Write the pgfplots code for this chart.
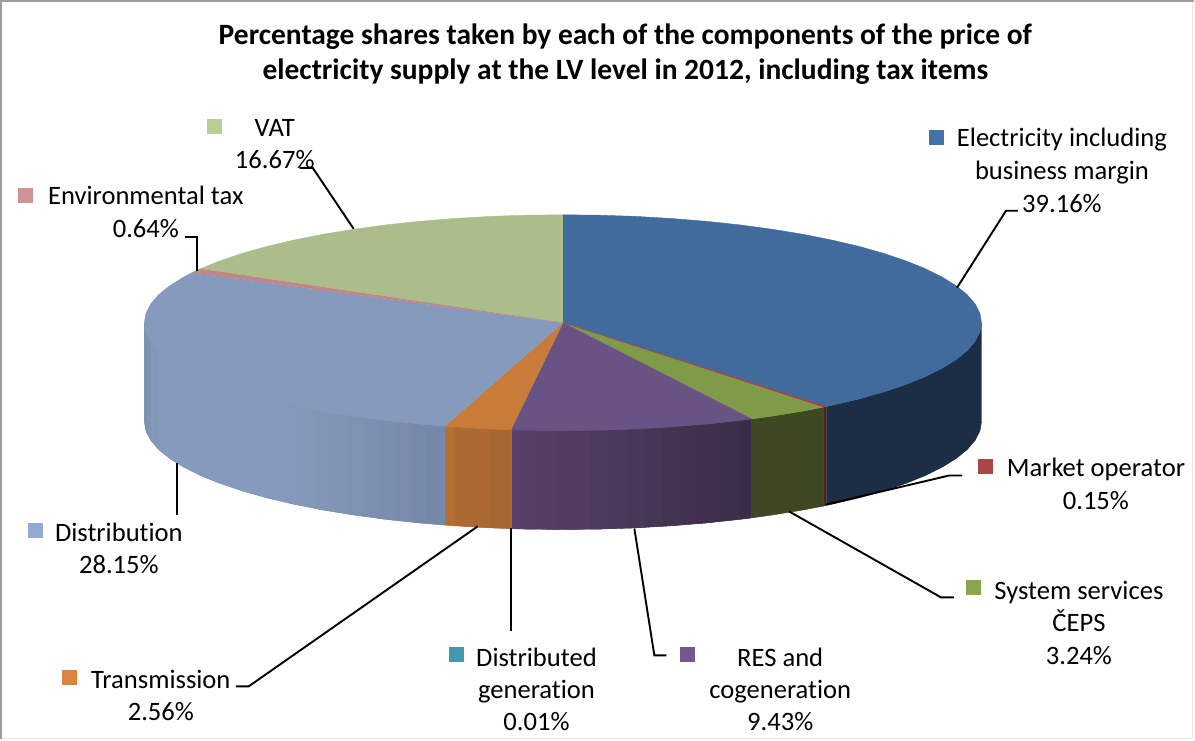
\documentclass[border=0pt]{standalone}
\usepackage{fontspec}
\setmainfont{Carlito}[Ligatures=NoCommon]
\usepackage{pgfplots}
\pgfplotsset{compat=1.18}

% top faces
\definecolor{tElec}{HTML}{416A9D}
\definecolor{tMark}{HTML}{A04240}
\definecolor{tSys}{HTML}{7F9A48}
\definecolor{tRes}{HTML}{695284}
\definecolor{tGen}{HTML}{3D8DA3}
\definecolor{tTran}{HTML}{C97B38}
\definecolor{tDist}{HTML}{869ABD}
\definecolor{tEnv}{HTML}{C18786}
\definecolor{tVat}{HTML}{ABBD8B}
% legend keys
\definecolor{kElec}{HTML}{4572A7}
\definecolor{kMark}{HTML}{AA4643}
\definecolor{kSys}{HTML}{89A54E}
\definecolor{kRes}{HTML}{71588F}
\definecolor{kGen}{HTML}{4198AF}
\definecolor{kTran}{HTML}{DB843D}
\definecolor{kDist}{HTML}{93A9CF}
\definecolor{kEnv}{HTML}{D19392}
\definecolor{kVat}{HTML}{B9CD96}
% side walls
\definecolor{sElec}{HTML}{1B2E45}
\definecolor{sMark}{HTML}{4F2120}
\definecolor{sSys}{HTML}{3E4822}
\definecolor{sRa}{HTML}{3B2D48}
\definecolor{sRb}{HTML}{3E2F4C}
\definecolor{sRc}{HTML}{423250}
\definecolor{sRd}{HTML}{463655}
\definecolor{sRe}{HTML}{4B3A5A}
\definecolor{sRf}{HTML}{4F3C60}
\definecolor{sRg}{HTML}{533E64}
\definecolor{sRh}{HTML}{563F68}
\definecolor{sTa}{HTML}{A66731}
\definecolor{sTb}{HTML}{AC6A32}
\definecolor{sTc}{HTML}{B26E33}
\definecolor{sDa}{HTML}{7688A7}
\definecolor{sDb}{HTML}{7A8BAB}
\definecolor{sDc}{HTML}{7E90B0}
\definecolor{sDd}{HTML}{8194B5}
\definecolor{sDe}{HTML}{8397B9}
\definecolor{sDf}{HTML}{7F94B5}
\definecolor{sDg}{HTML}{7A8FAF}

\newcommand{\poly}[2]{\addplot[fill=#1,draw=#1,line width=0.2pt] coordinates {#2};}
\newcommand{\strip}[2]{\addplot[fill=#1,draw=none] coordinates {#2};}
\newcommand{\key}[2]{\addplot[fill=#1,draw=none] coordinates {#2};}
\newcommand{\leader}[1]{\addplot[black,line width=0.95pt] coordinates {#1};}
\newcommand{\lab}[3]{\node[anchor=base,inner sep=0pt,font=\fontsize{13.3}{15}\selectfont] at (axis cs:#1,#2) {#3};}

\begin{document}
\begin{tikzpicture}
\begin{axis}[
    scale only axis,
    width=597.5pt,
    height=370pt,
    xmin=0, xmax=1195,
    ymin=0, ymax=740,
    y dir=reverse,
    hide axis,
    clip=false
]
% background and frame
\addplot[fill=white,draw=none] coordinates {(0,0)(1195,0)(1195,740)(0,740)};
\addplot[color=black!8,line width=0.5pt] coordinates {(1194,2)(1194,739.5)(2,739.5)};
\addplot[color=black!38,line width=1.2pt] coordinates {(1.2,740)(1.2,1.2)(1195,1.2)};

% side walls
\poly{sElec}{(982.5,323)(980.9,332.4)(976.1,341.8)(968.2,351.0)(957.2,359.9)(943.2,368.6)(926.4,377.0)(906.7,384.9)(884.5,392.4)(859.8,399.4)(832.8,405.7)(827.3,406.9)
  (827.3,505.9)(832.8,504.7)(859.8,498.4)(884.5,491.4)(906.7,483.9)(926.4,476.0)(943.2,467.6)(957.2,458.9)(968.2,450.0)(976.1,440.8)(980.9,431.4)(982.5,422)}
\poly{sMark}{(827.3,406.9)(824.2,407.6)(824.2,506.6)(827.3,505.9)}
\poly{sSys}{(824.2,407.6)(803.8,411.5)(773.0,416.5)(752.5,419.4)(752.5,518.4)(773.0,515.5)(803.8,510.5)(824.2,506.6)}
% base layers under the gradient strips
\poly{sRd}{(752.5,419.4)(740.6,420.9)(706.8,424.5)(671.9,427.3)(636.3,429.4)(600.0,430.6)(563.5,431)(527.0,430.6)(511.5,430.2)(511.5,529.2)(527.0,529.6)(563.5,530)(600.0,529.6)(636.3,528.4)(671.9,526.3)(706.8,523.5)(740.6,519.9)(752.5,518.4)}
\poly{sTb}{(511.3,430.2)(490.7,429.4)(455.1,427.3)(445.3,426.6)(445.3,525.6)(455.1,526.3)(490.7,528.4)(511.3,529.2)}
\poly{sDd}{(445.3,426.6)(420.2,424.5)(386.4,420.9)(354.0,416.5)(323.2,411.5)(294.2,405.7)(267.2,399.4)(242.5,392.4)(220.3,384.9)(200.6,377.0)(183.8,368.6)(169.8,359.9)(158.8,351.0)(150.9,341.8)(146.1,332.4)(144.5,323)
  (144.5,422)(146.1,431.4)(150.9,440.8)(158.8,450.0)(169.8,458.9)(183.8,467.6)(200.6,476.0)(220.3,483.9)(242.5,491.4)(267.2,498.4)(294.2,504.7)(323.2,510.5)(354.0,515.5)(386.4,519.9)(420.2,523.5)(445.3,525.6)}
% gradient strips
\strip{sRa}{(752.5,419.4)(740.6,420.9)(740.6,519.9)(752.5,518.4)}
\strip{sRb}{(740.6,420.9)(706.8,424.5)(706.8,523.5)(740.6,519.9)}
\strip{sRc}{(706.8,424.5)(671.9,427.3)(671.9,526.3)(706.8,523.5)}
\strip{sRd}{(671.9,427.3)(636.3,429.4)(636.3,528.4)(671.9,526.3)}
\strip{sRe}{(636.3,429.4)(600.0,430.6)(600.0,529.6)(636.3,528.4)}
\strip{sRf}{(600.0,430.6)(563.5,431)(563.5,530)(600.0,529.6)}
\strip{sRg}{(563.5,431)(527.0,430.6)(527.0,529.6)(563.5,530)}
\strip{sRh}{(527.0,430.6)(511.5,430.2)(511.5,529.2)(527.0,529.6)}
\strip{sRb!50!sRc}{(715.2,423.6)(706.8,424.5)(698.1,425.2)(698.1,524.2)(706.8,523.5)(715.2,522.6)}
\strip{sRc!50!sRd}{(680.6,426.6)(671.9,427.3)(663.0,427.8)(663.0,526.8)(671.9,526.3)(680.6,525.6)}
\strip{sRd!50!sRe}{(645.2,428.9)(636.3,429.4)(627.2,429.7)(627.2,528.7)(636.3,528.4)(645.2,527.9)}
\strip{sRe!50!sRf}{(609.1,430.3)(600.0,430.6)(590.9,430.7)(590.9,529.7)(600.0,529.6)(609.1,529.3)}
\strip{sRf!50!sRg}{(572.6,430.9)(563.5,431)(554.4,430.9)(554.4,529.9)(563.5,530)(572.6,529.9)}
\strip{sRg!50!sRh}{(536.1,430.7)(527.0,430.6)(523.1,430.5)(523.1,529.5)(527.0,529.6)(536.1,529.7)}
\poly{tGen}{(511.5,430.2)(511.3,430.2)(511.3,529.2)(511.5,529.2)}
\strip{sTa}{(511.3,430.2)(490.7,429.4)(490.7,528.4)(511.3,529.2)}
\strip{sTb}{(490.7,429.4)(455.1,427.3)(455.1,526.3)(490.7,528.4)}
\strip{sTc}{(455.1,427.3)(445.3,426.6)(445.3,525.6)(455.1,526.3)}
\strip{sDa}{(445.3,426.6)(420.2,424.5)(420.2,523.5)(445.3,525.6)}
\strip{sDb}{(420.2,424.5)(386.4,420.9)(386.4,519.9)(420.2,523.5)}
\strip{sDc}{(386.4,420.9)(354.0,416.5)(354.0,515.5)(386.4,519.9)}
\strip{sDd}{(354.0,416.5)(323.2,411.5)(323.2,510.5)(354.0,515.5)}
\strip{sDe}{(323.2,411.5)(294.2,405.7)(294.2,504.7)(323.2,510.5)}
\strip{tDist}{(294.2,405.7)(267.2,399.4)(242.5,392.4)(220.3,384.9)(200.6,377.0)(183.8,368.6)(169.8,359.9)(158.8,351.0)
  (158.8,450.0)(169.8,458.9)(183.8,467.6)(200.6,476.0)(220.3,483.9)(242.5,491.4)(267.2,498.4)(294.2,504.7)}
\strip{sDa!50!sDb}{(426.5,425.0)(420.2,424.5)(411.8,423.6)(411.8,522.6)(420.2,523.5)(426.5,524.0)}
\strip{sDb!50!sDc}{(394.9,421.8)(386.4,420.9)(378.3,419.8)(378.3,518.8)(386.4,519.9)(394.9,520.8)}
\strip{sDc!50!sDd}{(362.1,417.6)(354.0,416.5)(346.3,415.3)(346.3,514.3)(354.0,515.5)(362.1,516.6)}
\strip{sDd!50!sDe}{(330.9,412.8)(323.2,411.5)(316.0,410.1)(316.0,509.1)(323.2,510.5)(330.9,511.8)}
\strip{sDe!50!tDist}{(301.5,407.2)(294.2,405.7)(287.4,404.1)(287.4,503.1)(294.2,504.7)(301.5,506.2)}
\strip{sDe}{(158.8,351.0)(150.9,341.8)(150.9,440.8)(158.8,450.0)}
\strip{sDf}{(150.9,341.8)(146.1,332.4)(146.1,431.4)(150.9,440.8)}
\strip{sDg}{(146.1,332.4)(144.5,323)(144.5,422)(146.1,431.4)}

% top faces
\poly{tElec}{(563.5,323)(563.5,215)(600.0,215.4)(636.3,216.6)(671.9,218.7)(706.8,221.5)(740.6,225.1)(773.0,229.5)(803.8,234.5)(832.8,240.3)(859.8,246.6)(884.5,253.6)(906.7,261.1)(926.4,269.0)(943.2,277.4)(957.2,286.1)(968.2,295.0)(976.1,304.2)(980.9,313.6)(982.5,323)(980.9,332.4)(976.1,341.8)(968.2,351.0)(957.2,359.9)(943.2,368.6)(926.4,377.0)(906.7,384.9)(884.5,392.4)(859.8,399.4)(832.8,405.7)(827.3,406.9)}
\poly{tSys}{(563.5,323)(824.2,407.6)(803.8,411.5)(773.0,416.5)(752.5,419.4)}
\poly{tRes}{(563.5,323)(752.5,419.4)(740.6,420.9)(706.8,424.5)(671.9,427.3)(636.3,429.4)(600.0,430.6)(563.5,431)(527.0,430.6)(511.5,430.2)}
\poly{tGen}{(563.5,323)(511.5,430.2)(511.3,430.2)}
\poly{tTran}{(563.5,323)(511.3,430.2)(490.7,429.4)(455.1,427.3)(445.3,426.6)}
\poly{tDist}{(563.5,323)(445.3,426.6)(420.2,424.5)(386.4,420.9)(354.0,416.5)(323.2,411.5)(294.2,405.7)(267.2,399.4)(242.5,392.4)(220.3,384.9)(200.6,377.0)(183.8,368.6)(169.8,359.9)(158.8,351.0)(150.9,341.8)(146.1,332.4)(144.5,323)(146.1,313.6)(150.9,304.2)(158.8,295.0)(169.8,286.1)(183.8,277.4)(192.6,272.8)}
\poly{tVat}{(563.5,323)(200.7,269.0)(220.3,261.1)(242.5,253.6)(267.2,246.6)(294.2,240.3)(323.2,234.5)(354.0,229.5)(386.4,225.1)(420.2,221.5)(455.1,218.7)(490.7,216.6)(527.0,215.4)(563.5,215)}
\poly{tEnv}{(563.5,323)(192.6,272.8)(200.7,269.0)}
\poly{tMark}{(563.5,323)(827.3,406.9)(824.2,407.6)}

% leader lines
\leader{(1019,211)(1007,211)(958,288)}
\leader{(963,476)(950,476)(827,505)}
\leader{(790,512)(942,598)(955,598)}
\leader{(635,529)(655,656)(667,656)}
\leader{(511.5,529)(511.5,632)}
\leader{(478,527)(249,687)(236,687)}
\leader{(177,463)(177,516)}
\leader{(185,237)(197,237)(197,271)}
\leader{(300,168)(313,168)(354,229)}

% legend keys
\key{kElec}{(930,130)(945,130)(945,145)(930,145)}
\key{kMark}{(979,459)(994,459)(994,474)(979,474)}
\key{kSys}{(967,581)(982,581)(982,596)(967,596)}
\key{kRes}{(681,648)(696,648)(696,663)(681,663)}
\key{kGen}{(449,648)(464,648)(464,663)(449,663)}
\key{kTran}{(62,671)(77,671)(77,686)(62,686)}
\key{kDist}{(28,524)(43,524)(43,539)(28,539)}
\key{kEnv}{(18,188)(33,188)(33,203)(18,203)}
\key{kVat}{(207,119)(222,119)(222,134)(207,134)}

% title
\node[anchor=base,inner sep=0pt,font=\fontsize{14.75}{17}\selectfont\bfseries] at (axis cs:626,45) {Percentage shares taken by each of the components of the price of};
\node[anchor=base,inner sep=0pt,font=\fontsize{14.75}{17}\selectfont\bfseries] at (axis cs:626,80) {electricity supply at the LV level in 2012, including tax items};

% data labels
\lab{1063}{147}{Electricity including}
\lab{1063}{180}{business margin}
\lab{1063}{213}{39.16\%}
\lab{1097}{477}{Market operator}
\lab{1097}{510}{0.15\%}
\lab{1080}{600}{System services}
\lab{1080}{632}{ČEPS}
\lab{1080}{665}{3.24\%}
\lab{781}{667}{RES and}
\lab{781}{699}{cogeneration}
\lab{781}{731}{9.43\%}
\lab{537}{667}{Distributed}
\lab{537}{699}{generation}
\lab{537}{731}{0.01\%}
\lab{161}{689}{Transmission}
\lab{161}{721}{2.56\%}
\lab{119}{542}{Distribution}
\lab{119}{574}{28.15\%}
\lab{146}{205}{Environmental tax}
\lab{146}{238}{0.64\%}
\lab{275}{137}{VAT}
\lab{275}{169}{16.67\%}
\end{axis}
\end{tikzpicture}
\end{document}
